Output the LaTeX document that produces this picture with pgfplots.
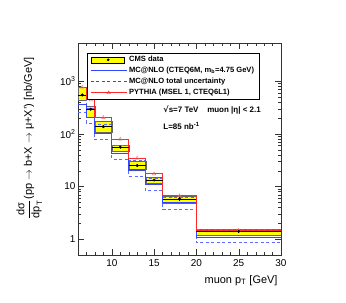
\documentclass[border=0pt]{standalone}
\usepackage{fontspec}
\setmainfont{Liberation Sans}
\newfontfamily\dejavu{DejaVu Sans}
\usepackage{amsmath}
\usepackage{pgfplots}
\pgfplotsset{compat=1.18}
\definecolor{mcblue}{RGB}{50,70,255}
\definecolor{pyred}{RGB}{255,40,40}
\definecolor{cmsyellow}{RGB}{255,255,0}
\begin{document}
\begin{tikzpicture}
\begin{axis}[
 at={(78bp,48bp)}, anchor=south west,
 scale only axis, width=203bp, height=212bp,
 xmin=6, xmax=30, ymode=log, ymin=0.5, ymax=5300,
 xtick={10,15,20,25,30}, xticklabels={10,15,20,25,30},
 minor xtick={6,...,30},
 ytick={1,10,100,1000},
 yticklabels={1,10,10\textsuperscript{2},10\textsuperscript{3}},
 tick align=inside,
 major tick length=6bp, minor tick length=3bp,
 axis line style={black!80},
 tick style={black!80},
 tick label style={font=\fontsize{10}{12}\selectfont},
 xticklabel style={yshift=-1bp},
 yticklabel style={xshift=1bp},
 xlabel={muon p\textsubscript{T} [GeV]},
 xlabel style={font=\fontsize{11}{13}\selectfont, at={(axis description cs:1,-0.12)}, anchor=east},
 ylabel={$\dfrac{\text{dσ}}{\text{dp}_{\text{T}}}$(pp $\rightarrow$ b+X $\rightarrow$ μ+X') [nb/GeV]},
 ylabel style={font=\fontsize{11}{13}\selectfont, at={(axis description cs:-0.24,0.55)}, anchor=center},
 legend style={at={(0.044,0.953)}, anchor=north west, draw=black, font=\bfseries\fontsize{7.6}{8.2}\selectfont,
   cells={anchor=west}, row sep=0pt, inner xsep=3bp, inner ysep=1.2bp},
 clip=true,
]
% legend entries
\addlegendimage{legend image code/.code={\draw[fill=cmsyellow,draw=black,thin] (1bp,-3bp) rectangle (34bp,3bp); \fill[black] (17.5bp,0bp) circle (1.2pt);}}
\addlegendentry{CMS data}
\addlegendimage{legend image code/.code={\draw[mcblue,line width=1bp] (0bp,0bp) -- (36bp,0bp);}}
\addlegendentry{MC@NLO (CTEQ6M, m\textsubscript{b}=4.75 GeV)}
\addlegendimage{legend image code/.code={\draw[mcblue,line width=0.9bp,dash pattern=on 3bp off 2.5bp] (0bp,0bp) -- (36bp,0bp);}}
\addlegendentry{MC@NLO total uncertainty}
\addlegendimage{legend image code/.code={\draw[pyred,line width=1bp] (0bp,0bp) -- (36bp,0bp); \draw[pyred,thin] plot[mark=triangle, mark size=2pt] coordinates {(18bp,0bp)};}}
\addlegendentry{PYTHIA (MSEL 1, CTEQ6L1)}

% yellow data uncertainty boxes
\addplot[forget plot, fill=cmsyellow, draw=black!60, very thin] coordinates {(6,440) (7,440) (7,787) (6,787)} --cycle;
\addplot[forget plot, fill=cmsyellow, draw=black!60, very thin] coordinates {(7,212) (8,212) (8,343) (7,343)} --cycle;
\addplot[forget plot, fill=cmsyellow, draw=black!60, very thin] coordinates {(8,110) (10,110) (10,171) (8,171)} --cycle;
\addplot[forget plot, fill=cmsyellow, draw=black!60, very thin] coordinates {(10,46) (12,46) (12,62) (10,62)} --cycle;
\addplot[forget plot, fill=cmsyellow, draw=black!60, very thin] coordinates {(12,21.3) (14,21.3) (14,29.7) (12,29.7)} --cycle;
\addplot[forget plot, fill=cmsyellow, draw=black!60, very thin] coordinates {(14,11.6) (16,11.6) (16,15.4) (14,15.4)} --cycle;
\addplot[forget plot, fill=cmsyellow, draw=black!60, very thin] coordinates {(16,4.8) (20,4.8) (20,6.6) (16,6.6)} --cycle;
\addplot[forget plot, fill=cmsyellow, draw=black!60, very thin] coordinates {(20,1.17) (30,1.17) (30,1.57) (20,1.57)} --cycle;

% MC@NLO uncertainty (dashed)
\addplot[forget plot, const plot, mcblue!80, line width=0.9bp, dash pattern=on 3bp off 2.5bp] coordinates {
(6,257) (7,159) (8,76.6) (10,33) (12,15.4) (14,8.36) (16,3.71) (20,0.85) (30,0.85)};
\addplot[forget plot, const plot, mcblue!80, line width=0.9bp, dash pattern=on 3bp off 2.5bp] coordinates {
(6,540) (7,300) (8,150) (10,59) (12,30.6) (14,14.4) (16,6.27) (20,1.55) (30,1.55)};

% MC@NLO central
\addplot[forget plot, const plot, mcblue, line width=1.1bp] coordinates {
(6,365) (7,207) (8,103) (10,42.8) (12,20.6) (14,11.1) (16,4.95) (20,1.09) (30,1.09)};

% PYTHIA
\addplot[forget plot, const plot, pyred, line width=1bp] coordinates {
(6,766) (7,440) (8,203) (10,78.9) (12,34.4) (14,17.3) (16,6.64) (20,1.46) (30,1.46)};
\addplot[forget plot, only marks, mark=triangle, mark size=2pt, pyred!70] coordinates {
(6.5,766) (7.5,440) (9,203) (11,78.9) (13,34.4) (15,17.3) (18,6.64) (25,1.46)};

% CMS data
\addplot[forget plot, only marks, mark=*, mark size=1.3pt, black,
 error bars/.cd, x dir=both, x explicit, y dir=both, y explicit,
 error bar style={line width=0.6bp}, error mark=none]
 table[x=x, y=y, x error=ex, y error=ey] {
x y ex ey
6.5 547 0.5 30
7.5 293 0.5 15
9 137 1 7
11 55.7 1 3
13 24.9 1 1.4
15 13.3 1 0.8
18 5.8 2 0.4
25 1.4 5 0.12
};

\node[anchor=base west, inner sep=0pt, font=\bfseries\fontsize{8}{9}\selectfont] at (rel axis cs:0.42,0.67) {{\dejavu √}s=7 TeV\hspace{1.1em}muon |η| < 2.1};
\node[anchor=base west, inner sep=0pt, font=\bfseries\fontsize{8}{9}\selectfont] at (rel axis cs:0.42,0.594) {L=85 nb\textsuperscript{-1}};
\end{axis}
\path[use as bounding box] (0bp,0bp) rectangle (346bp,303bp);
\end{tikzpicture}
\end{document}
